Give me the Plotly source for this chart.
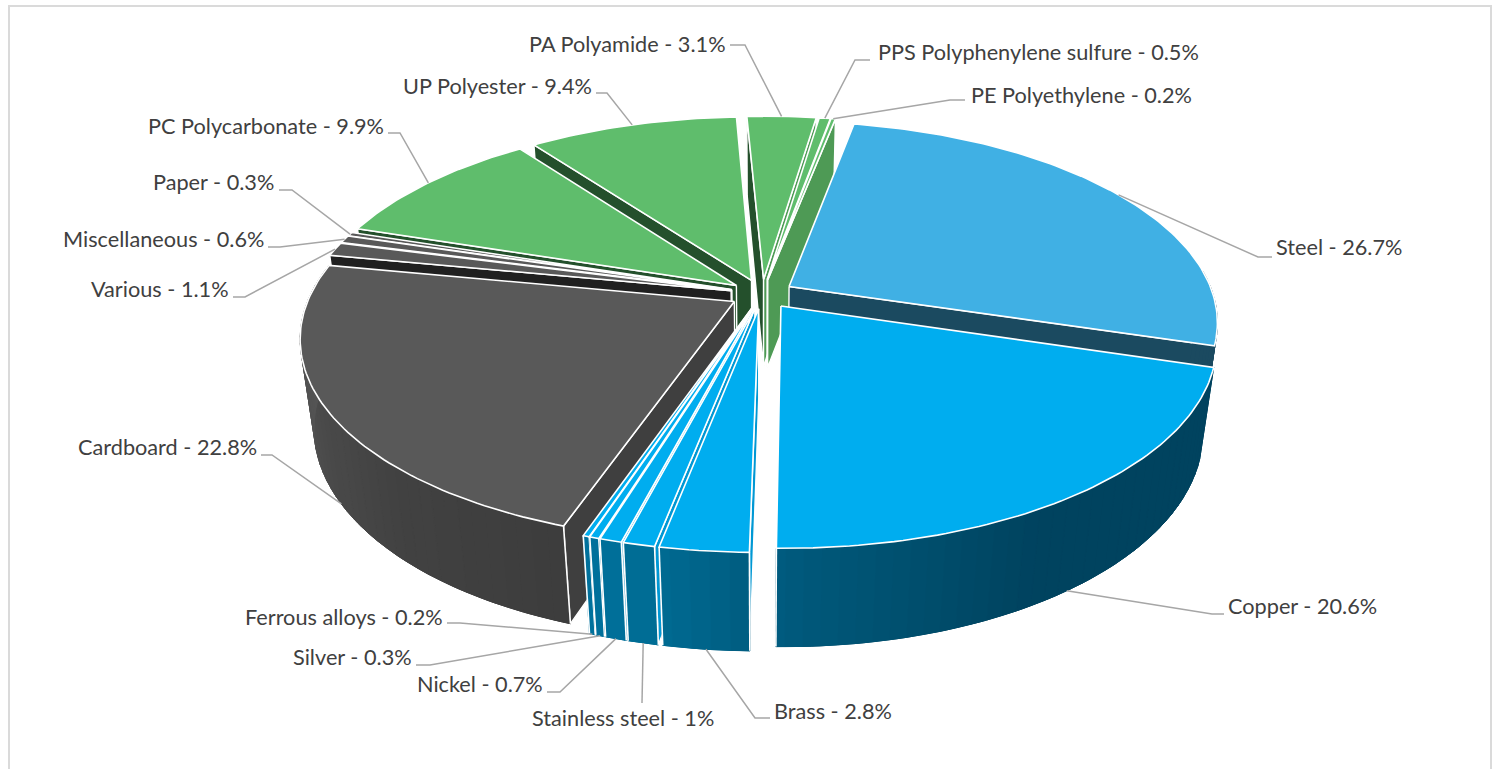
import numpy as np
import plotly.graph_objects as go

# ---- data ----
names = ["Steel", "Copper", "Brass", "Stainless steel", "Nickel", "Silver", "Ferrous alloys",
         "Cardboard", "Various", "Miscellaneous", "Paper",
         "PC Polycarbonate", "UP Polyester", "PA Polyamide", "PPS Polyphenylene sulfure", "PE Polyethylene"]
values = [26.7, 20.6, 2.8, 1, 0.7, 0.3, 0.2,
          22.8, 1.1, 0.6, 0.3,
          9.9, 9.4, 3.1, 0.5, 0.2]
groups = ["steel", "metal", "metal", "metal", "metal", "metal", "metal",
          "gray", "gray", "gray", "gray",
          "green", "green", "green", "green", "green"]

# ---- styles / layout ----
TOP = {"steel": "#40B0E4", "metal": "#00ADEF", "gray": "#595959", "green": "#5FBD6C"}
FACE_START = {"steel": "#1B4A60", "metal": "#0098D4", "gray": "#3F3F3F", "green": "#24502C"}
FACE_END = {"steel": "#1B4A60", "metal": "#00435F", "gray": "#3F3F3F", "green": "#4E9A55"}
FACE_OVERRIDE = {"Various": "#202020", "Miscellaneous": "#555555", "Paper": "#555555"}
WALL = {
    "steel": [(0, (27, 74, 96)), (360, (27, 74, 96))],
    "metal": [(100, (0, 67, 95)), (150, (0, 67, 95)), (178, (0, 88, 122)), (192, (0, 108, 148)), (202, (0, 115, 160))],
    "gray": [(195, (60, 60, 60)), (225, (66, 66, 66)), (255, (80, 80, 80)), (285, (92, 92, 92))],
    "green": [(0, (78, 154, 85)), (360, (78, 154, 85))],
}
CX, CY, A, B, C, K, M, E = 762.0, 294.0, 424.0, 196.0, 91.0, 0.172, 0.03, 0.075
START = 11.0
WALL_FROM, WALL_TO = 85.0, 281.5
TEXT_PAD = 2

# text side and edge, centre y, elbow points, anchor depth
LABELS = {
    "PA Polyamide": ("right", 726, 44, [(730, 45), (745, 45)], 0),
    "PPS Polyphenylene sulfure": ("left", 878, 52, [(870, 60), (855, 60)], 0),
    "PE Polyethylene": ("left", 971, 95, [(965, 100), (950, 100)], 0),
    "Steel": ("left", 1276, 247, [(1272, 257), (1258, 257)], 0),
    "Copper": ("left", 1228, 606, [(1224, 614), (1212, 614)], 1),
    "Brass": ("left", 774, 711, [(770, 718), (755, 718)], 1),
    "Stainless steel": ("right", 714, 718, [(642, 703)], 1),
    "Nickel": ("right", 543, 684, [(547, 692), (560, 692)], 1),
    "Silver": ("right", 412, 657, [(416, 665), (430, 665)], 1),
    "Ferrous alloys": ("right", 443, 617, [(447, 623), (460, 623)], 1),
    "Cardboard": ("right", 257, 447, [(261, 455), (272, 455)], 1),
    "Various": ("right", 229, 289, [(233, 297), (245, 297)], 0),
    "Miscellaneous": ("right", 264, 239, [(268, 247), (280, 247)], 0),
    "Paper": ("right", 274, 182, [(279, 190), (292, 190)], 0),
    "PC Polycarbonate": ("right", 384, 126, [(388, 133), (400, 133)], 0),
    "UP Polyester": ("right", 592, 86, [(596, 93), (607, 93)], 0),
}


def proj(X, Y, Z=0.0):
    w = 1 + K * Y - M * Z
    return CX + A * X / w, CY - (B * Y + C * Z) / w


def shade(stops, t):
    ts = [s[0] for s in stops]
    rgb = [np.interp(t, ts, [s[1][i] for s in stops]) for i in range(3)]
    return "rgb(%d,%d,%d)" % tuple(int(round(v)) for v in rgb)


def poly(fig, xs, ys, color, line=None, width=0.0):
    fig.add_trace(go.Scatter(x=list(xs), y=list(ys), mode="lines", fill="toself", fillcolor=color,
                             line=dict(color=line or color, width=width if line else 1.0),
                             hoverinfo="skip", showlegend=False))


total = sum(values)
spans = [v / total * 360 for v in values]
a0 = START + np.concatenate([[0], np.cumsum(spans)[:-1]])
slices = []
for n, v, g, s, a in zip(names, values, groups, spans, a0):
    mid = np.radians(a + s / 2)
    slices.append(dict(name=n, value=v, group=g, a=a, b=a + s, mid=a + s / 2,
                       ox=E * np.sin(mid), oy=E * np.cos(mid)))


def pt(sl, deg, r=1.0, z=0.0):
    t = np.radians(deg)
    return proj(sl["ox"] + r * np.sin(t), sl["oy"] + r * np.cos(t), z)


fig = go.Figure()
for sl in sorted(slices, key=lambda q: -np.cos(np.radians(q["mid"]))):
    g = sl["group"]
    n_arc = max(3, int((sl["b"] - sl["a"]) / 1.0))
    arc = np.linspace(sl["a"], sl["b"], n_arc)
    apex_t, apex_b = pt(sl, 0, 0, 0), pt(sl, 0, 0, -1)
    # radial faces: only those turned towards the viewer
    for deg, col, sign in ((sl["a"], FACE_START[g], -1), (sl["b"], FACE_END[g], 1)):
        col = FACE_OVERRIDE.get(sl["name"], col)
        p1, p2 = pt(sl, deg, 1, 0), pt(sl, deg, 1, -1)
        cross = (p1[0] - apex_t[0]) * (p2[1] - p1[1]) - (p1[1] - apex_t[1]) * (p2[0] - p1[0])
        if cross * sign > 0:
            poly(fig, [apex_t[0], p1[0], p2[0], apex_b[0], apex_t[0]],
                 [apex_t[1], p1[1], p2[1], apex_b[1], apex_t[1]], col, "white", 1.4)
    # outer wall (front part only): a base shape, then short strips for the gradient
    wall_arc = arc[(arc >= WALL_FROM) & (arc <= WALL_TO)]
    if len(wall_arc) >= 2:
        tx, ty = zip(*[pt(sl, d, 1, 0) for d in wall_arc])
        bx, by = zip(*[pt(sl, d, 1, -1) for d in wall_arc[::-1]])
        poly(fig, tx + bx + tx[:1], ty + by + ty[:1], shade(WALL[g], wall_arc.mean()))
        step = max(2, len(wall_arc) // 30)
        idx = list(range(0, len(wall_arc) - 1, step)) + [len(wall_arc) - 1]
        for i, j in zip(idx[:-1], idx[1:]):
            seg = wall_arc[i:j + 1]
            sx, sy = zip(*[pt(sl, d, 1, 0) for d in seg])
            ex, ey = zip(*[pt(sl, d, 1, -1) for d in seg[::-1]])
            poly(fig, sx + ex + sx[:1], sy + ey + sy[:1], shade(WALL[g], seg.mean()))
    # vertical edges of wall
    for deg in (sl["a"], sl["b"]):
        if 120 < deg < 275:
            p1, p2 = pt(sl, deg, 1, 0), pt(sl, deg, 1, -1)
            fig.add_trace(go.Scatter(x=[p1[0], p2[0]], y=[p1[1], p2[1]], mode="lines",
                                     line=dict(color="white", width=1.6), hoverinfo="skip", showlegend=False))
    # top
    tx, ty = zip(*[pt(sl, d, 1, 0) for d in arc])
    poly(fig, (apex_t[0],) + tx + (apex_t[0],), (apex_t[1],) + ty + (apex_t[1],), TOP[g], "white", 1.6)

# leader lines and labels
annotations = []
for sl in slices:
    side, lx, ly, elbows, depth = LABELS[sl["name"]]
    end = pt(sl, sl["mid"], 1, -depth)
    xs = [e[0] for e in elbows] + [end[0]]
    ys = [e[1] for e in elbows] + [end[1]]
    fig.add_trace(go.Scatter(x=xs, y=ys, mode="lines", line=dict(color="#A6A6A6", width=1.5),
                             hoverinfo="skip", showlegend=False))
    annotations.append(dict(x=lx + (TEXT_PAD if side == "right" else -TEXT_PAD), y=ly, xref="x", yref="y",
                            xanchor=side, yanchor="middle", showarrow=False,
                            text="%s - %g%%" % (sl["name"], sl["value"]),
                            font=dict(family="Lato", size=21.7, color="#404040")))

fig.update_layout(
    width=1499, height=769, margin=dict(l=0, r=0, t=0, b=0), paper_bgcolor="white", plot_bgcolor="white",
    xaxis=dict(range=[0, 1499], visible=False, fixedrange=True),
    yaxis=dict(range=[769, 0], visible=False, fixedrange=True),
    showlegend=False, annotations=annotations,
    shapes=[dict(type="rect", x0=9, x1=1491, y0=6, y1=800, line=dict(color="#DADADA", width=2), layer="below")],
)
fig.write_html("out.html", config={"displayModeBar": False},
               post_script="document.body.style.margin='0';document.body.style.overflow='hidden';")
